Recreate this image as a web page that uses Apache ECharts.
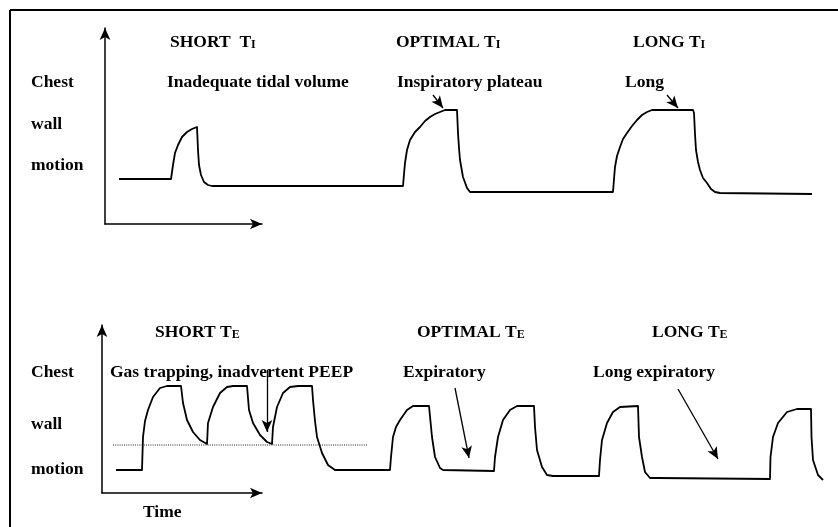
<!DOCTYPE html>
<html>
<head>
<meta charset="utf-8">
<script src="https://cdn.jsdelivr.net/npm/echarts@6/dist/echarts.min.js"></script>
<style>
  html, body { margin: 0; padding: 0; background: #fff; }
  #main { width: 838px; height: 527px; }
</style>
</head>
<body>
<div id="main"></div>
<script>
// top panel: inspiratory time, [time, chest wall motion]
var inspWave = [
  [1.4, 4.5], [6.6, 4.5], [6.7, 4.6], [6.8, 5.9], [7.0, 7.1], [7.3, 7.9], [7.7, 8.7], [8.2, 9.2], [8.7, 9.5], [9.2, 9.7],
  [9.3, 9.6], [9.3, 7.4], [9.4, 5.9], [9.6, 4.9], [9.9, 4.2], [10.3, 3.9], [10.7, 3.8],
  [29.8, 3.8], [29.9, 5.0], [30.0, 6.1], [30.2, 7.4], [30.5, 8.4], [31.0, 9.2], [31.5, 9.7], [32.0, 10.3], [32.5, 10.7],
  [33.0, 11.0], [33.5, 11.2], [34.0, 11.4], [35.2, 11.4],
  [35.3, 9.1], [35.4, 7.6], [35.5, 6.4], [35.8, 4.7], [36.2, 3.6], [36.5, 3.2],
  [50.8, 3.2], [50.9, 4.5], [51.0, 5.7], [51.2, 6.8], [51.5, 7.7], [51.8, 8.5], [52.2, 9.1], [52.7, 9.8], [53.2, 10.4],
  [53.7, 10.9], [54.2, 11.2], [54.7, 11.4], [58.8, 11.4],
  [58.9, 11.1], [59.0, 9.0], [59.1, 7.4], [59.3, 6.2], [59.5, 5.4], [59.8, 4.6], [60.2, 4.1], [60.6, 3.5], [61.0, 3.2],
  [61.5, 3.1], [70.7, 3.0]
];

// bottom panel: expiratory time
var expWave = [
  [1.4, 2.3], [4.0, 2.3], [4.1, 5.6], [4.3, 7.2], [4.6, 8.3], [5.1, 9.6], [5.8, 10.5], [6.5, 10.7], [7.9, 10.7],
  [8.1, 9.0], [8.5, 7.3], [9.1, 6.1], [9.8, 5.3], [10.5, 4.9],
  [10.6, 7.0], [11.1, 8.6], [11.8, 10.0], [12.5, 10.6], [13.1, 10.7], [14.5, 10.7],
  [14.7, 8.3], [15.1, 7.0], [15.8, 5.8], [16.5, 5.1], [17.0, 4.9],
  [17.1, 6.6], [17.5, 8.6], [18.1, 10.0], [18.8, 10.6], [19.6, 10.7], [21.0, 10.7],
  [21.1, 9.3], [21.3, 7.2], [21.5, 5.6], [22.0, 4.0], [22.6, 2.8], [23.3, 2.3], [28.8, 2.3],
  [28.9, 3.6], [29.1, 5.6], [29.4, 6.6], [29.8, 7.3], [30.5, 8.3], [31.1, 8.7], [32.7, 8.7],
  [33.0, 5.6], [33.3, 3.6], [33.8, 2.5], [34.1, 2.3], [39.2, 2.2],
  [39.3, 3.6], [39.6, 5.6], [40.1, 7.3], [40.8, 8.3], [41.5, 8.7], [43.2, 8.7],
  [43.3, 6.6], [43.5, 4.3], [44.0, 2.6], [44.5, 1.8], [45.1, 1.7], [49.7, 1.7],
  [49.8, 3.3], [50.0, 5.3], [50.5, 7.0], [51.1, 8.1], [51.8, 8.6], [53.6, 8.7],
  [53.7, 5.6], [54.0, 3.6], [54.3, 2.1], [54.8, 1.5], [55.5, 1.5], [66.8, 1.4],
  [66.85, 3.6], [67.1, 5.6], [67.6, 7.0], [68.5, 8.1], [69.5, 8.4], [70.9, 8.4],
  [70.95, 5.6], [71.1, 3.3], [71.6, 1.8], [72.1, 1.3]
];

// inadvertent PEEP level
var peepLevel = [[1.1, 4.8], [26.5, 4.8]];

// annotation arrows [from, to]
var inspArrows = [
  [[32.8, 12.9], [33.8, 11.6]],
  [[56.2, 12.9], [57.3, 11.6]]
];
var expArrows = [
  [[16.5, 12.3], [16.5, 6.1]],
  [[35.3, 10.5], [36.7, 3.5]],
  [[57.6, 10.4], [61.6, 3.4]]
];

var yLabels = ['Chest', 'wall', 'motion'];
var inspTitles = [['SHORT  T', 'I'], ['OPTIMAL T', 'I'], ['LONG T', 'I']];
var expTitles = [['SHORT T', 'E'], ['OPTIMAL T', 'E'], ['LONG T', 'E']];
var inspNotes = ['Inadequate tidal volume', 'Inspiratory plateau', 'Long'];
var expNotes = ['Gas trapping, inadvertent PEEP', 'Expiratory', 'Long expiratory'];
var xLabel = 'Time';

var myChart = echarts.init(document.getElementById('main'));
var font = 'bold 17.5px "Liberation Serif", "Times New Roman", serif';

function txt(s, x, baseline) {
  return { type: 'text', x: x, y: baseline - 6, style: { text: s, font: font, fill: '#000', verticalAlign: 'middle' } };
}
function titleTxt(t, x, baseline) {
  return {
    type: 'text', x: x, y: baseline - 6,
    style: {
      text: '{a|' + t[0] + '}{s|' + t[1] + '}', verticalAlign: 'middle', fill: '#000',
      rich: {
        a: { fontFamily: '"Liberation Serif", serif', fontWeight: 'bold', fontSize: 17.5, lineHeight: 18 },
        s: { fontFamily: '"Liberation Serif", serif', fontWeight: 'bold', fontSize: 12, lineHeight: 11, verticalAlign: 'bottom' }
      }
    }
  };
}

function arrowLines(list) {
  var out = [];
  for (var i = 0; i < list.length; i++) {
    out.push([{ coord: list[i][0], symbol: 'none' }, { coord: list[i][1], symbol: 'arrow', symbolSize: [8, 12] }]);
  }
  return out;
}

var hiddenAxis = { type: 'value', show: false };
var arrowAxis = {
  type: 'value', min: 0, max: 1,
  axisLine: { show: true, symbol: ['none', 'arrow'], symbolSize: [8, 12], lineStyle: { color: '#000', width: 1.5 } },
  axisTick: { show: false }, axisLabel: { show: false }, splitLine: { show: false }
};

var graphics = [
  { type: 'line', shape: { x1: 10, y1: 10, x2: 838, y2: 10 }, style: { stroke: '#000', lineWidth: 2 } },
  { type: 'line', shape: { x1: 10, y1: 10, x2: 10, y2: 527 }, style: { stroke: '#000', lineWidth: 2 } },
  txt(yLabels[0], 31, 88), txt(yLabels[1], 31, 130), txt(yLabels[2], 31, 171),
  txt(yLabels[0], 31, 378), txt(yLabels[1], 31, 430), txt(yLabels[2], 31, 475),
  titleTxt(inspTitles[0], 170, 48), titleTxt(inspTitles[1], 396, 48), titleTxt(inspTitles[2], 633, 48),
  titleTxt(expTitles[0], 155, 338), titleTxt(expTitles[1], 417, 338), titleTxt(expTitles[2], 652, 338),
  txt(inspNotes[0], 167, 88), txt(inspNotes[1], 397, 88), txt(inspNotes[2], 625, 88),
  txt(expNotes[0], 110, 378), txt(expNotes[1], 403, 378), txt(expNotes[2], 593, 378),
  txt(xLabel, 143, 518)
];

var waveLine = { color: '#000', width: 1.8, join: 'round' };

var option = {
  backgroundColor: '#fff',
  animation: false,
  grid: [
    { left: 105, top: 24, width: 730, height: 200 },
    { left: 105, top: 28, width: 157, height: 196 },
    { left: 102, top: 293, width: 730, height: 200 },
    { left: 102, top: 325, width: 160, height: 168 }
  ],
  xAxis: [
    echarts.util.merge({ gridIndex: 0, min: 0, max: 73 }, hiddenAxis),
    echarts.util.merge({ gridIndex: 1 }, arrowAxis),
    echarts.util.merge({ gridIndex: 2, min: 0, max: 73 }, hiddenAxis),
    echarts.util.merge({ gridIndex: 3 }, arrowAxis)
  ],
  yAxis: [
    echarts.util.merge({ gridIndex: 0, min: 0, max: 20 }, hiddenAxis),
    echarts.util.merge({ gridIndex: 1 }, arrowAxis),
    echarts.util.merge({ gridIndex: 2, min: 0, max: 20 }, hiddenAxis),
    echarts.util.merge({ gridIndex: 3 }, arrowAxis)
  ],
  graphic: graphics,
  series: [
    {
      type: 'line', xAxisIndex: 0, yAxisIndex: 0, data: inspWave,
      showSymbol: false, lineStyle: waveLine,
      markLine: {
        silent: true, label: { show: false },
        lineStyle: { color: '#000', width: 1.3, type: 'solid' },
        data: arrowLines(inspArrows)
      }
    },
    {
      type: 'line', xAxisIndex: 2, yAxisIndex: 2, data: expWave,
      showSymbol: false, lineStyle: waveLine,
      markLine: {
        silent: true, label: { show: false },
        lineStyle: { color: '#000', width: 1.3, type: 'solid' },
        data: arrowLines(expArrows)
      }
    },
    {
      type: 'line', xAxisIndex: 2, yAxisIndex: 2, data: peepLevel,
      showSymbol: false, lineStyle: { color: '#222', width: 1, type: [1, 1.2] }
    }
  ]
};
myChart.setOption(option);
</script>
</body>
</html>
